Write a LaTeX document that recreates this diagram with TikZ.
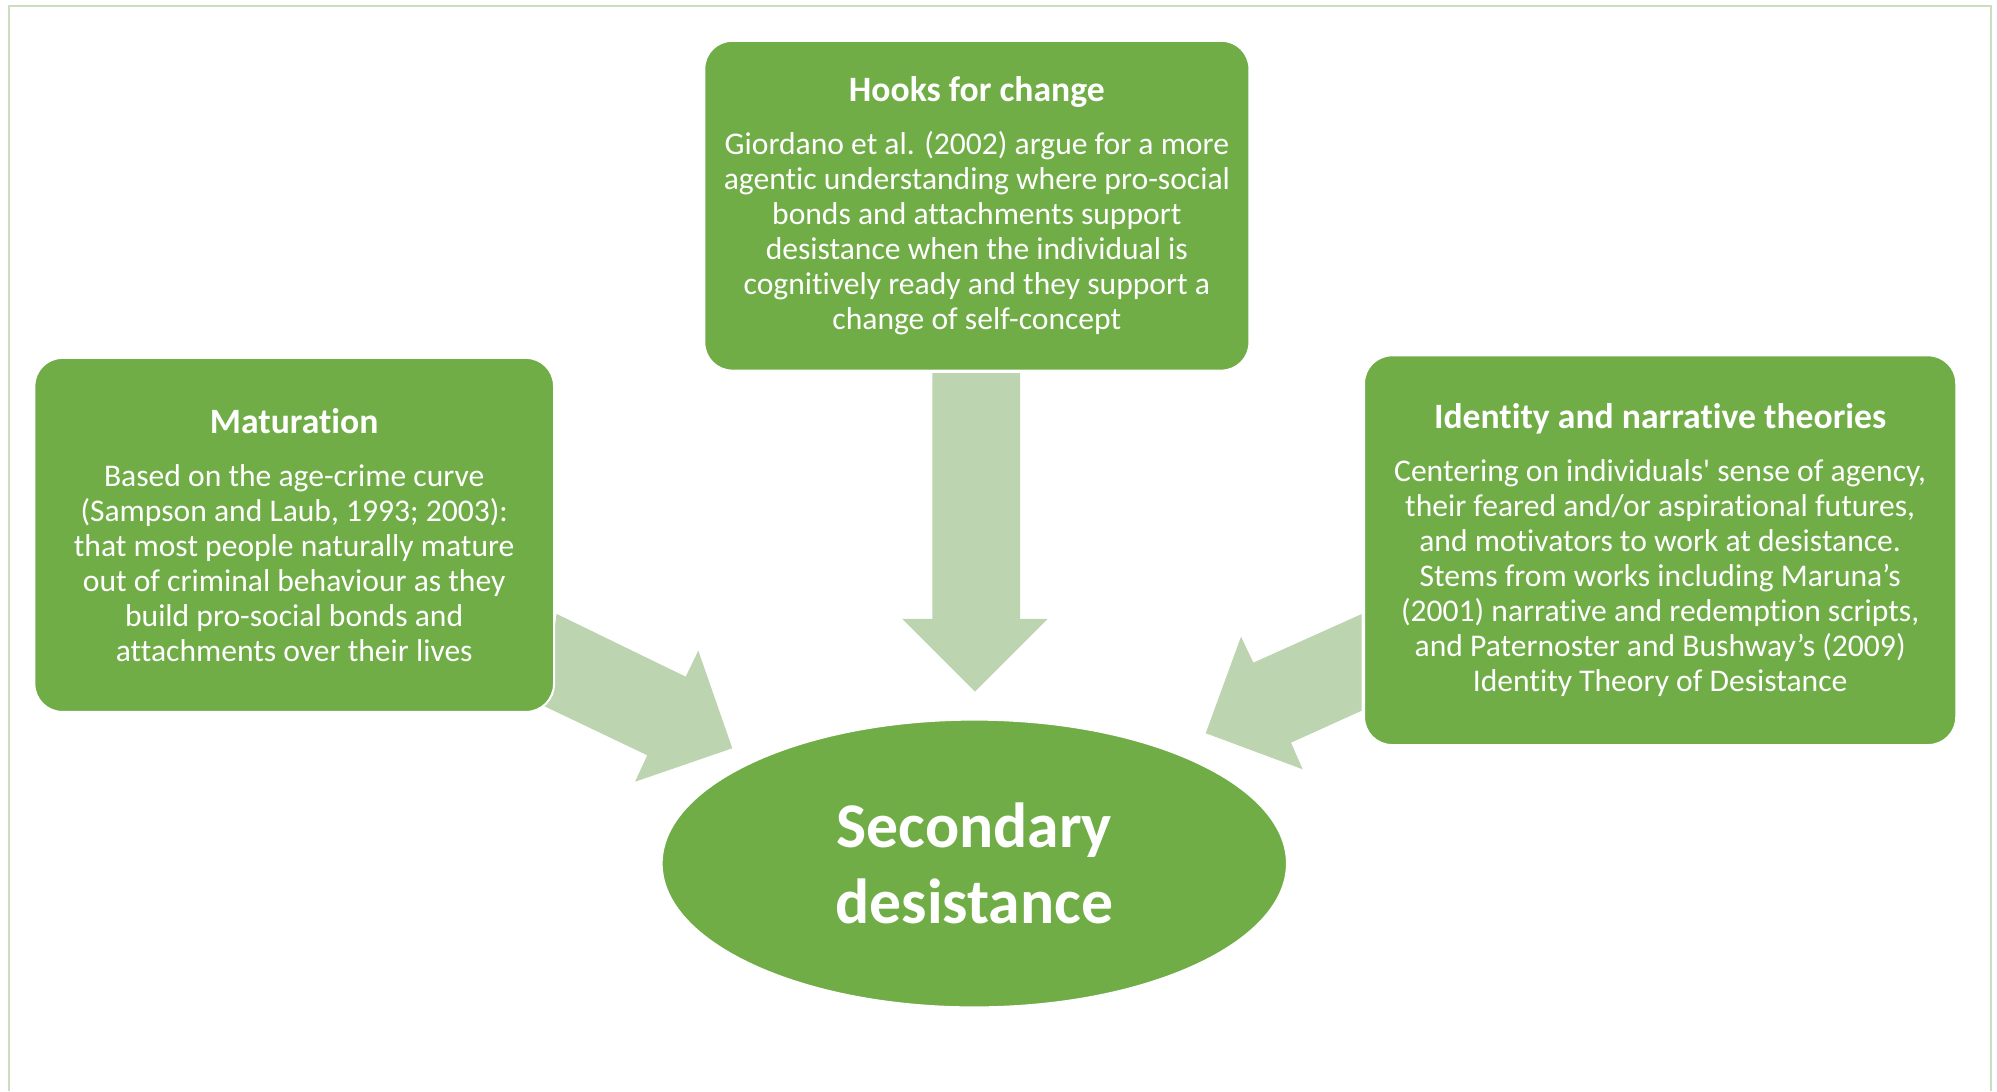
\documentclass[tikz,border=0pt]{standalone}
\usepackage{fontspec}
\setmainfont{Carlito}[Ligatures={NoCommon,NoContextual,NoRequired},Contextuals=NoAlternate]
\usetikzlibrary{shapes.geometric}
\definecolor{boxgreen}{HTML}{70AD47}
\definecolor{arrowgreen}{HTML}{BCD4B0}
\definecolor{framegreen}{HTML}{C9DFC0}
\newcommand{\boxtitle}[1]{{\fontsize{14}{17}\selectfont\bfseries #1}\\[7.2pt]}

\begin{document}
\begin{tikzpicture}
	[x=0.5pt,y=-0.5pt,text=white]
	\tikzstyle{theory}=[rectangle,rounded corners=11pt,fill=boxgreen,draw=white,line width=0.8pt,
		align=center,inner sep=0pt,font=\fontsize{12.4}{13.75}\selectfont]
	\tikzstyle{goal}=[ellipse,fill=boxgreen,draw=white,line width=0.8pt,inner sep=0pt,
		minimum width=245.5pt,minimum height=113pt,align=center,font=\fontsize{25}{30}\selectfont\bfseries]
	\tikzstyle{blockarrow}=[fill=arrowgreen]

	\useasboundingbox (0,0) rectangle (1568,857);
	\draw[framegreen,line width=0.8pt] (7,857) -- (7,4.5) -- (1563.5,4.5) -- (1563.5,857);

	\fill[blockarrow] (732,293) -- (801,293) -- (801,486) -- (822.6,486) -- (765.5,543) -- (708.5,486) -- (732,486) -- cycle;
	\fill[blockarrow] (437,482) -- (538.4,531.3) -- (548.3,510.9) -- (575,587.5) -- (498.6,613.8) -- (508.2,593) -- (427,554.3) -- cycle;
	\fill[blockarrow] (1069.2,482.1) -- (984.1,520.3) -- (974.4,499.9) -- (946.7,575.7) -- (1022.8,604) -- (1013.7,583.1) -- (1069.2,558) -- cycle;

	\node[theory,minimum width=214pt,minimum height=129.5pt] (hooks) at (767,161.5)
		{\boxtitle{Hooks for change}Giordano et al. (2002) argue for a more\\agentic understanding where pro-social\\bonds and attachments support\\desistance when the individual is\\cognitively ready and they support a\\change of self-concept};
	\node[theory,minimum width=204pt,minimum height=139pt] (mat) at (231,420)
		{\boxtitle{Maturation}Based on the age-crime curve\\(Sampson and Laub, 1993; 2003):\\that most people naturally mature\\out of criminal behaviour as they\\build pro-social bonds and\\attachments over their lives};
	\node[theory,minimum width=232.5pt,minimum height=153pt] (ident) at (1303.5,432)
		{\boxtitle{Identity and narrative theories}Centering on individuals\textquotesingle{} sense of agency,\\their feared and/or aspirational futures,\\and motivators to work at desistance.\\Stems from works including Maruna’s\\(2001) narrative and redemption scripts,\\and Paternoster and Bushway’s (2009)\\Identity Theory of Desistance};
	\node[goal] (sec) at (765,678) {Secondary\\desistance};
\end{tikzpicture}
\end{document}
